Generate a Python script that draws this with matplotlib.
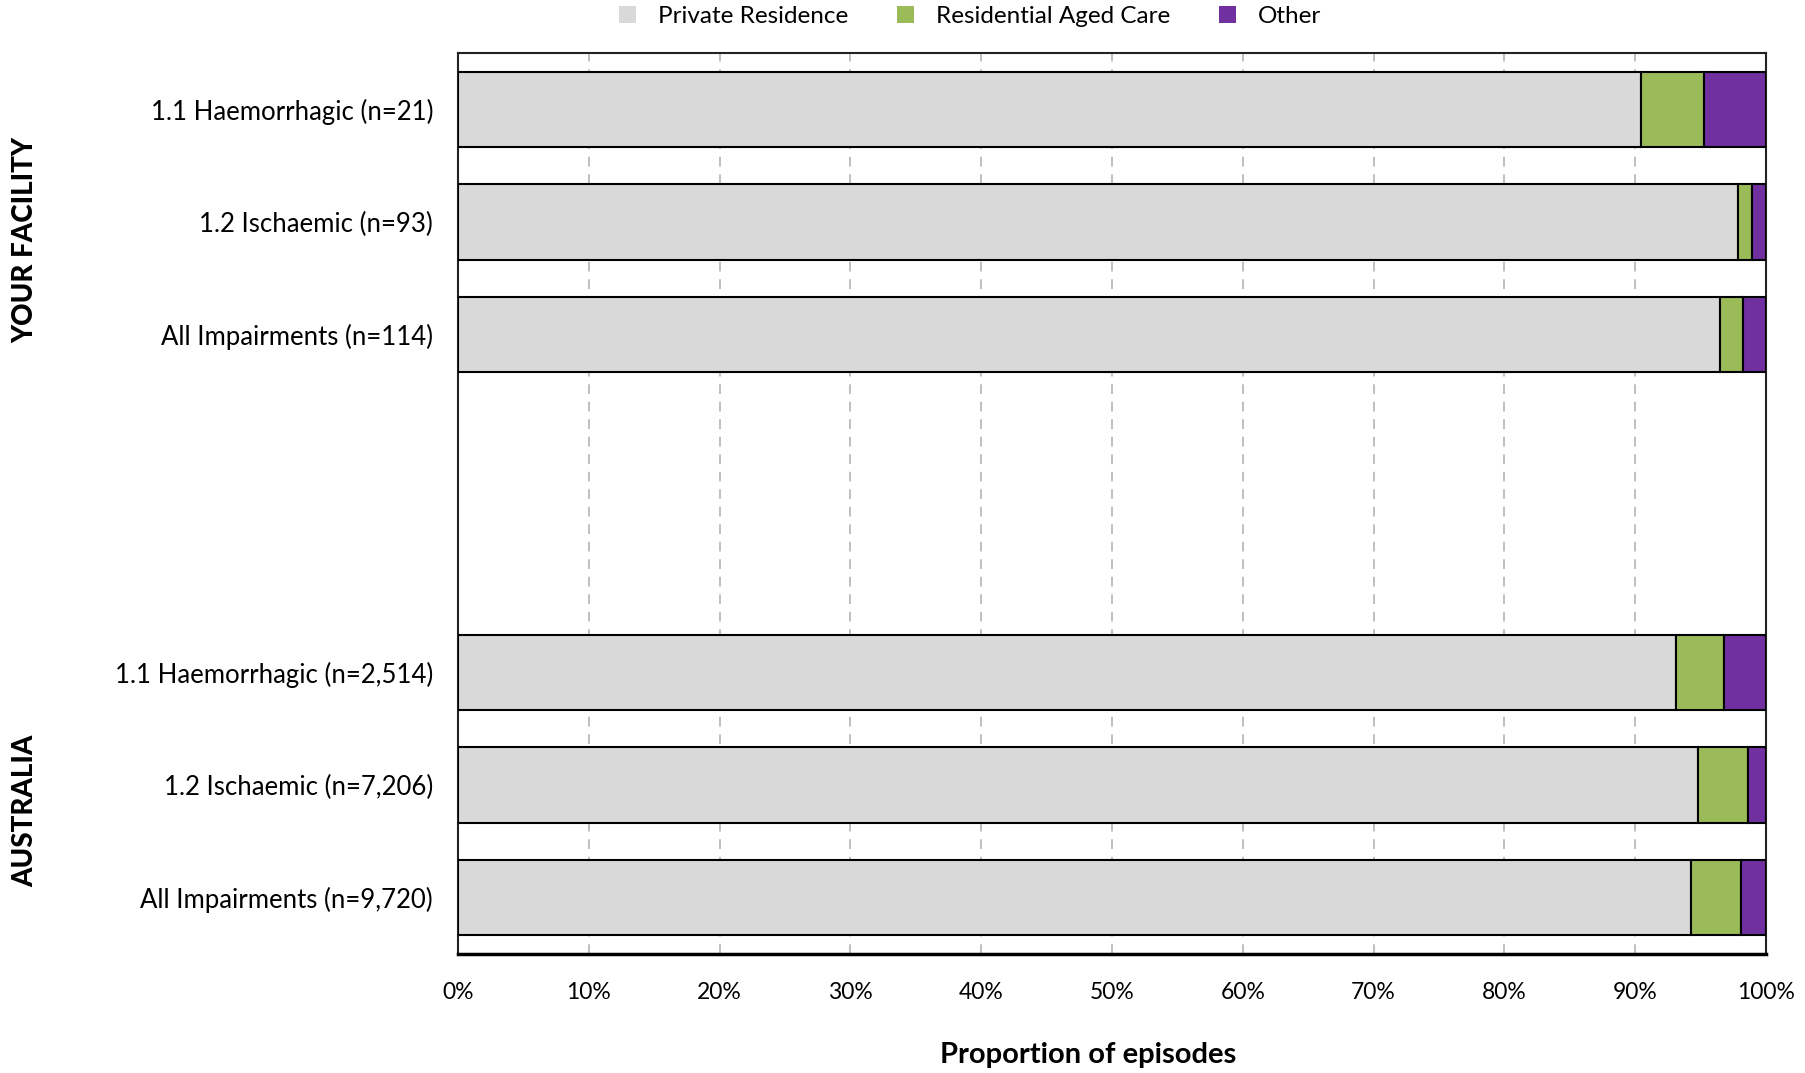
import matplotlib.pyplot as plt
import matplotlib.transforms as mtransforms
import numpy as np

## data (percent of episodes)
labels = ['1.1 Haemorrhagic (n=21)', '1.2 Ischaemic (n=93)', 'All Impairments (n=114)',
          '1.1 Haemorrhagic (n=2,514)', '1.2 Ischaemic (n=7,206)', 'All Impairments (n=9,720)']
private_res = [90.48, 97.85, 96.49, 93.1, 94.8, 94.3]
aged_care = [4.76, 1.08, 1.75, 3.7, 3.8, 3.8]
other = [4.76, 1.07, 1.76, 3.2, 1.4, 1.9]
groups = ['YOUR FACILITY', 'AUSTRALIA']
series_names = ['Private Residence', 'Residential Aged Care', 'Other']
colors = ['#D9D9D9', '#9BBB59', '#7030A0']

plt.rcParams['font.family'] = ['Lato', 'DejaVu Sans']

fig = plt.figure(figsize=(18.06, 10.73), dpi=100)
ax = fig.add_axes([0.2536, 0.1109, 0.7242, 0.8397])

# two blocks of three bars with an empty gap between them
ypos = np.array([0, 1, 2, 5, 6, 7])
left = np.zeros(len(labels))
for vals, name, c in zip([private_res, aged_care, other], series_names, colors):
    ax.barh(ypos, vals, left=left, height=0.67, color=c, edgecolor='black',
            linewidth=1.5, label=name, zorder=3)
    left = left + np.array(vals)

ax.set_xlim(0, 100)
ax.set_ylim(7.5, -0.5)
ax.set_yticks(ypos)
ax.set_yticklabels(labels, fontsize=18.5)
ax.set_xticks(np.arange(0, 101, 10))
ax.set_xticklabels([f'{v}%' for v in range(0, 101, 10)], fontsize=16.5)
ax.tick_params(axis='both', length=0)
ax.tick_params(axis='y', pad=18)
ax.tick_params(axis='x', pad=20)
ax.grid(axis='x', color='#BFBFBF', linestyle=(0, (5, 4)), linewidth=1.4, zorder=0)
ax.set_axisbelow(True)

for s in ['top', 'right', 'left']:
    ax.spines[s].set_color('#222222')
    ax.spines[s].set_linewidth(1.5)
ax.spines['bottom'].set_linewidth(2.5)

ax.set_xlabel('Proportion of episodes', fontsize=21, fontweight='bold')
ax.xaxis.set_label_coords(0.482, -0.098)

# group labels on the far left
trans = mtransforms.blended_transform_factory(fig.transFigure, ax.transData)
for g, yc in zip(groups, [1.16, 6.23]):
    ax.text(0.014, yc, g, transform=trans, fontsize=20,
            fontweight='black', rotation=90, ha='center', va='center')

fig.legend(loc='center', bbox_to_anchor=(0.537, 0.985), ncol=3, frameon=False,
           fontsize=17.5, handlelength=0.7, handleheight=0.7, handletextpad=0.9,
           columnspacing=2.0)
for h in fig.legends[0].legend_handles:
    h.set_edgecolor('none')

plt.savefig('out.png', dpi=100)
